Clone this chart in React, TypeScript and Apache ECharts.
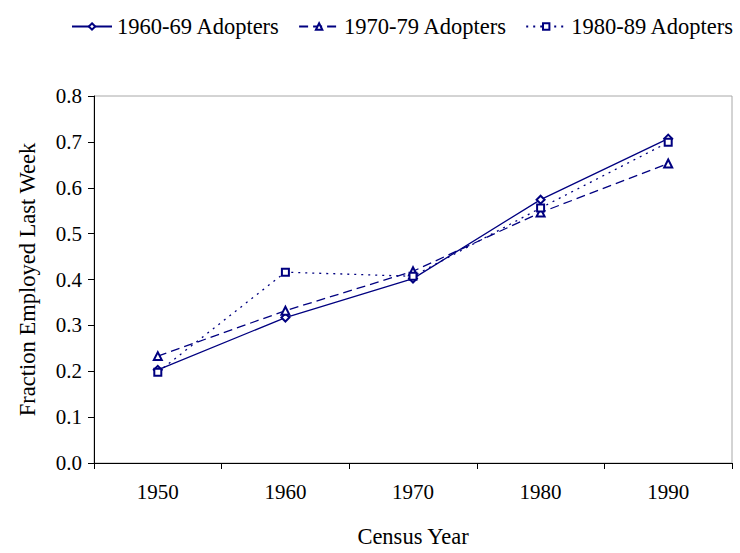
import React, { useEffect, useRef } from "react";
import * as echarts from "echarts";

const years = ["1950", "1960", "1970", "1980", "1990"];
const adopters6069 = [0.203, 0.317, 0.402, 0.574, 0.707];
const adopters7079 = [0.233, 0.332, 0.418, 0.546, 0.653];
const adopters8089 = [0.198, 0.416, 0.407, 0.556, 0.699];
const seriesNames = ["1960-69 Adopters", "1970-79 Adopters", "1980-89 Adopters"];

const NAVY = "#000080";
const FONT = "Liberation Serif";

export default function App() {
  const ref = useRef<HTMLDivElement>(null);
  useEffect(() => {
    if (!ref.current) return;
    const chart = echarts.init(ref.current, undefined, { renderer: "svg" });
    const mk = (name: string, data: number[], symbol: string, type: any, size: number) => ({
      name,
      type: "line",
      data,
      symbol,
      symbolSize: size,
      showSymbol: true,
      lineStyle: { color: NAVY, width: 1.3, type },
      itemStyle: { color: NAVY, borderColor: NAVY, borderWidth: 1.2 },
    });
    chart.setOption({
      animation: false,
      textStyle: { fontFamily: FONT, color: "#000" },
      legend: {
        top: 10,
        left: 66,
        itemWidth: 40,
        itemHeight: 8,
        itemGap: 18,
        textStyle: { fontFamily: FONT, fontSize: 22.5, color: "#000" },
        data: seriesNames,
      },
      grid: {
        left: 94,
        right: 8,
        top: 96,
        bottom: 86,
        show: true,
        borderColor: "#a8a8a8",
        borderWidth: 1,
      },
      xAxis: {
        type: "category",
        data: years,
        boundaryGap: true,
        name: "Census Year",
        nameLocation: "middle",
        nameGap: 62,
        nameTextStyle: { fontFamily: FONT, fontSize: 22.5, color: "#000" },
        axisLine: { lineStyle: { color: "#000", width: 1 } },
        axisTick: { show: true, length: 6, alignWithLabel: false, lineStyle: { color: "#000" } },
        axisLabel: { fontFamily: FONT, fontSize: 21, color: "#000", margin: 18 },
        splitLine: { show: false },
      },
      yAxis: {
        type: "value",
        min: 0,
        max: 0.8,
        interval: 0.1,
        name: "Fraction Employed Last Week",
        nameLocation: "middle",
        nameGap: 55,
        nameTextStyle: { fontFamily: FONT, fontSize: 22.5, color: "#000" },
        axisLine: { show: true, lineStyle: { color: "#000", width: 1 } },
        axisTick: { show: true, length: 6, lineStyle: { color: "#000" } },
        axisLabel: {
          fontFamily: FONT,
          fontSize: 21,
          color: "#000",
          margin: 12,
          formatter: (v: number) => v.toFixed(1),
        },
        splitLine: { show: false },
      },
      series: [
        mk(seriesNames[0], adopters6069, "emptyDiamond", "solid", 8),
        mk(seriesNames[1], adopters7079, "emptyTriangle", [9, 5], 8),
        mk(seriesNames[2], adopters8089, "emptyRect", [2, 5], 7),
      ],
    });
    return () => chart.dispose();
  }, []);
  return <div ref={ref} style={{ width: 740, height: 553, position: "absolute", left: 0, top: 0 }} />;
}
